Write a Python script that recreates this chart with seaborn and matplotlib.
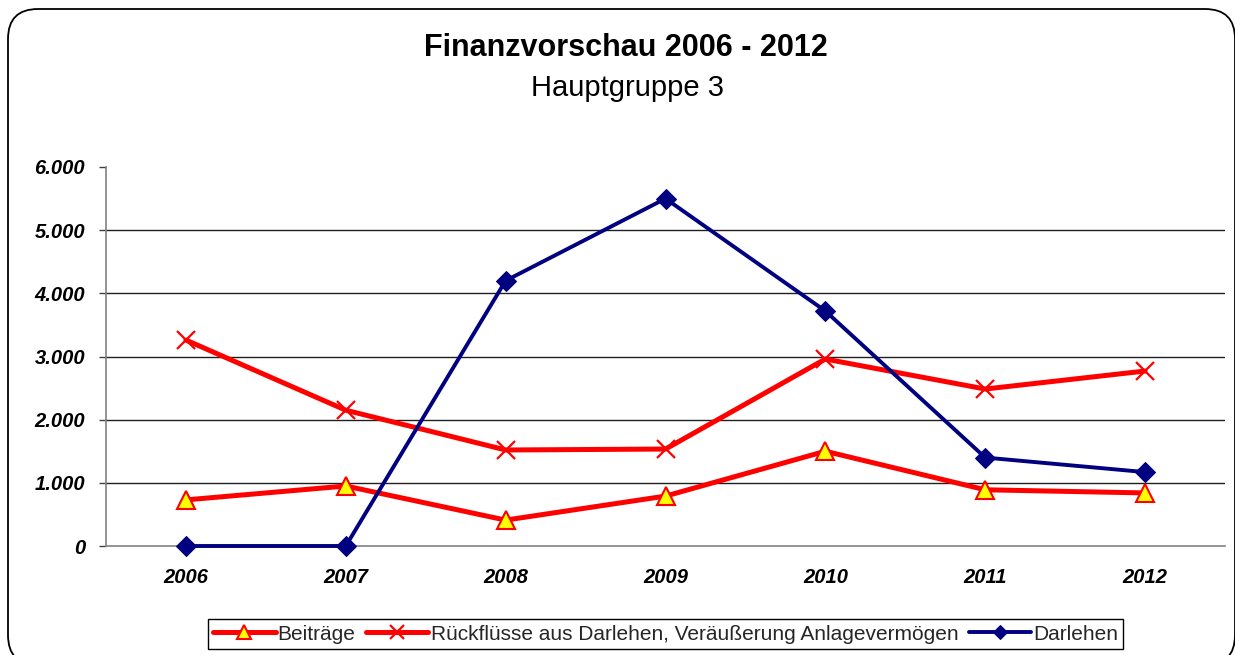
#!/usr/bin/env python3
# -*- coding: utf-8 -*-
"""Finanzvorschau 2006 - 2012, Hauptgruppe 3"""

import matplotlib
matplotlib.use('Agg')
import matplotlib.pyplot as plt
import seaborn as sns
from matplotlib.patches import FancyBboxPatch
from matplotlib.ticker import FuncFormatter, FixedLocator

years = ['2006', '2007', '2008', '2009', '2010', '2011', '2012']
beitraege = [730, 950, 410, 790, 1500, 890, 840]
rueckfluesse = [3260, 2150, 1520, 1535, 2960, 2485, 2770]
darlehen = [0, 0, 4200, 5500, 3720, 1400, 1170]

sns.set_theme(style='white')
plt.rcParams['font.family'] = ['Liberation Sans', 'DejaVu Sans']

fig = plt.figure(figsize=(12.35, 6.55), dpi=100)
ax = fig.add_axes([106 / 1235, 1 - 546 / 655, (1225 - 106) / 1235, (546 - 167) / 655])

# Rahmen mit runden Ecken
frame = FancyBboxPatch((0.08, -0.1), 12.27, 6.56, boxstyle='round,pad=0,rounding_size=0.3',
                       transform=fig.dpi_scale_trans, facecolor='none',
                       edgecolor='black', linewidth=1.3, zorder=0)
fig.add_artist(frame)

sns.lineplot(x=years, y=beitraege, ax=ax, color='#ff0000', linewidth=3.6,
             marker='^', markersize=13, markerfacecolor='#ffff00',
             markeredgecolor='#ff0000', markeredgewidth=1.5, label='Beiträge',
             clip_on=False)
sns.lineplot(x=years, y=rueckfluesse, ax=ax, color='#ff0000', linewidth=3.6,
             marker='x', markersize=13, markeredgecolor='#ff0000',
             markeredgewidth=1.6,
             label='Rückflüsse aus Darlehen, Veräußerung Anlagevermögen',
             clip_on=False)
sns.lineplot(x=years, y=darlehen, ax=ax, color='#000080', linewidth=2.8,
             marker='D', markersize=10, markerfacecolor='#000080',
             markeredgecolor='#000080', label='Darlehen', clip_on=False)

ax.set_xlim(-0.5, 6.5)
ax.set_ylim(0, 6000)
ax.set_xlabel('')
ax.set_ylabel('')

ax.yaxis.set_major_locator(FixedLocator([0, 1000, 2000, 3000, 4000, 5000, 6000]))
ax.yaxis.set_major_formatter(FuncFormatter(lambda v, p: f'{v:,.0f}'.replace(',', '.')))
ax.grid(axis='y', color='#202020', linewidth=1.0)
ax.get_ygridlines()[-1].set_visible(False)
ax.get_ygridlines()[0].set_visible(False)
ax.set_axisbelow(True)

for side in ['top', 'right']:
    ax.spines[side].set_visible(False)
for side in ['left', 'bottom']:
    ax.spines[side].set_color('#808080')
    ax.spines[side].set_linewidth(1.2)
    ax.spines[side].set_zorder(1)

ax.set_xticks(range(len(years)))
ax.set_xticks([i - 0.5 for i in range(len(years) + 1)], minor=True)
ax.tick_params(axis='x', which='major', length=0, pad=16)
ax.tick_params(axis='x', which='minor', length=5, width=1, color='#404040', direction='out')
ax.tick_params(axis='y', which='major', length=5, width=1, color='#404040',
               direction='out', pad=10, left=True)

for lbl in ax.get_xticklabels() + ax.get_yticklabels():
    lbl.set_fontsize(14.5)
    lbl.set_fontweight('bold')
    lbl.set_fontstyle('italic')
    lbl.set_color('black')

fig.text(0.507, 1 - 48 / 655, 'Finanzvorschau 2006 - 2012', ha='center', va='center',
         fontsize=22, fontweight='bold', color='black')
fig.text(0.508, 1 - 88 / 655, 'Hauptgruppe 3', ha='center', va='center',
         fontsize=21, color='black')

handles, labels = ax.get_legend_handles_labels()
ax.legend_.remove()
leg = fig.legend(handles, labels, loc='center', bbox_to_anchor=(0.539, 1 - 634 / 655),
                 ncol=3, fontsize=15, frameon=True, fancybox=False, edgecolor='black',
                 framealpha=1, markerscale=0.75, handlelength=3.0, handletextpad=0.1,
                 columnspacing=0.5, borderpad=0.25, borderaxespad=0)
leg.get_frame().set_linewidth(1.0)

fig.savefig('out.png', dpi=100)
